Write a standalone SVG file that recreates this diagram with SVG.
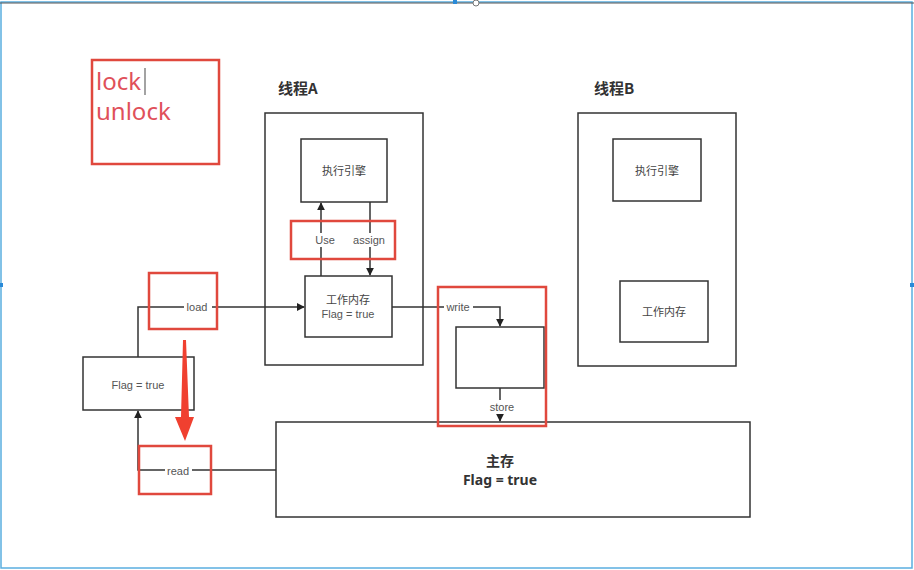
<svg xmlns="http://www.w3.org/2000/svg" width="914" height="570" viewBox="0 0 914 570">
<defs>
<marker id="ah" viewBox="0 0 10 10" refX="9" refY="5" markerWidth="8" markerHeight="8" markerUnits="userSpaceOnUse" orient="auto">
<path d="M0,0 L10,5 L0,10 z" fill="#222"/>
</marker>
</defs>
<style>
.box{fill:#fff;stroke:#333;stroke-width:1.5}
.red{fill:none;stroke:#e0483d;stroke-width:2.5}
.ln{fill:none;stroke:#333;stroke-width:1.5}
.t{font-family:"Noto Sans CJK SC","Liberation Sans",sans-serif;font-size:11px;fill:#444;text-anchor:middle}
.lbl{font-family:"Liberation Sans","Noto Sans CJK SC",sans-serif;font-size:11px;fill:#555;text-anchor:middle}
.h{font-family:"Noto Sans CJK SC",sans-serif;font-size:15px;font-weight:bold;fill:#333}
.big{font-family:"Noto Sans","Noto Sans CJK SC",sans-serif;font-size:14px;font-weight:bold;fill:#333;text-anchor:middle}
.lk{font-family:"Noto Sans","Liberation Sans",sans-serif;font-size:24px;fill:#e0505a}
</style>
<rect x="0" y="0" width="914" height="570" fill="#fff"/>
<rect x="1" y="2" width="911" height="566" fill="none" stroke="#5aaee0" stroke-width="1.5"/>
<line x1="0" y1="3" x2="914" y2="3" stroke="#555" stroke-width="1"/>
<rect x="453" y="0" width="4" height="4" fill="#2a8ad8"/>
<circle cx="476" cy="3" r="3" fill="#fff" stroke="#777"/>
<rect x="910" y="283" width="4" height="4" fill="#2a8ad8"/>
<rect x="0" y="283" width="3" height="4" fill="#2a8ad8"/>

<g id="lockbox">
<rect class="red" x="92" y="60" width="127" height="104"/>
<text class="lk" x="96" y="90">lock</text>
<line x1="145" y1="68" x2="145" y2="95" stroke="#666" stroke-width="1.2"/>
<text class="lk" x="96" y="120">unlock</text>
</g>

<g id="threadA">
<text class="h" x="278" y="94">线程A</text>
<rect class="box" x="265" y="113" width="158" height="252"/>
</g>
<g id="engineA">
<rect class="box" x="301" y="139" width="86" height="63"/>
<text class="t" x="344" y="175">执行引擎</text>
</g>
<g id="workA">
<rect class="box" x="305" y="276" width="87" height="61"/>
<text class="t" x="348" y="304">工作内存</text>
<text class="lbl" x="348" y="318">Flag = true</text>
</g>
<g id="threadB">
<text class="h" x="594" y="94">线程B</text>
<rect class="box" x="578" y="113" width="158" height="253"/>
</g>
<g id="engineB">
<rect class="box" x="613" y="139" width="88" height="62"/>
<text class="t" x="657" y="175">执行引擎</text>
</g>
<g id="workB">
<rect class="box" x="620" y="281" width="88" height="61"/>
<text class="t" x="664" y="316">工作内存</text>
</g>
<g id="flagBox">
<rect class="box" x="83" y="357" width="111" height="53"/>
<text class="lbl" x="138" y="389">Flag = true</text>
</g>
<g id="midBox">
<rect class="box" x="456" y="327" width="88" height="61"/>
</g>
<g id="mainMem">
<rect class="box" x="276" y="422" width="474" height="95"/>
<text class="big" x="500" y="466">主存</text>
<text class="big" x="500" y="485">Flag = true</text>
</g>

<g id="connectors">
<line class="ln" x1="321" y1="276" x2="321" y2="203" marker-end="url(#ah)"/>
<line class="ln" x1="370" y1="202" x2="370" y2="275" marker-end="url(#ah)"/>
<polyline class="ln" points="138,357 138,307 304,307" marker-end="url(#ah)"/>
<polyline class="ln" points="392,307 500,307 500,326" marker-end="url(#ah)"/>
<line class="ln" x1="500" y1="388" x2="500" y2="421" marker-end="url(#ah)"/>
<polyline class="ln" points="276,470 138,470 138,411" marker-end="url(#ah)"/>
<rect x="311" y="233" width="26" height="14" fill="#fff"/>
<text class="lbl" x="325" y="244">Use</text>
<rect x="351" y="233" width="36" height="14" fill="#fff"/>
<text class="lbl" x="369" y="244">assign</text>
<rect x="184" y="300" width="28" height="14" fill="#fff"/>
<text class="lbl" x="197" y="311">load</text>
<rect x="444" y="300" width="29" height="14" fill="#fff"/>
<text class="lbl" x="458" y="311">write</text>
<rect x="487" y="400" width="30" height="14" fill="#fff"/>
<text class="lbl" x="502" y="411">store</text>
<rect x="165" y="464" width="27" height="14" fill="#fff"/>
<text class="lbl" x="178" y="475">read</text>
</g>

<g id="redMarks">
<rect class="red" x="291" y="221" width="104" height="38"/>
<rect class="red" x="149" y="273" width="68" height="56"/>
<rect class="red" x="438" y="287" width="108" height="139"/>
<rect class="red" x="139" y="446" width="72" height="48"/>
<polygon points="183,340 186,340 189,417 194,417 185,441 175,417 181,417" fill="#f04030"/>
</g>
</svg>
